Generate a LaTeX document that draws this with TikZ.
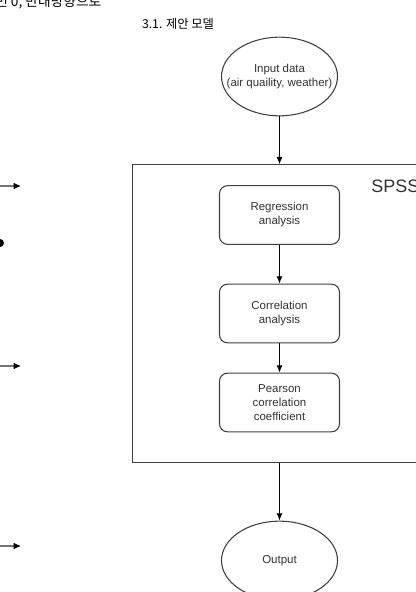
\documentclass[tikz,border=0pt]{standalone}
\usepackage{fontspec}
\setmainfont{Liberation Sans}
\newfontfamily\krfont{Noto Sans CJK KR}
\usetikzlibrary{positioning,shapes.geometric,arrows.meta}

\begin{document}
\begin{tikzpicture}[
    x=0.75pt, y=-0.75pt,
    % Define flow styles
    arrow/.style={-{Latex[length=5.5pt,width=4.5pt]}, line width=0.8pt},
    terminal/.style={ellipse, draw=black!75, line width=0.8pt, inner xsep=-9pt, inner ysep=-6pt,
        minimum width=87pt, minimum height=59pt, align=center, text=black!80,
        font=\fontsize{8.6}{10.5}\selectfont},
    process/.style={rectangle, rounded corners=6pt, draw=black!75, line width=0.8pt,
        minimum width=90pt, minimum height=44pt, align=center, text=black!80,
        font=\fontsize{8.6}{10.5}\selectfont},
    stub/.style={-{Latex[length=5.5pt,width=5pt,black]}, black!55, line width=0.8pt} % Arrows of the text column
]

% Page frame
\useasboundingbox (0,0) rectangle (416,592);
\clip (0,0) rectangle (416,592);

% Text above the figure
\node[anchor=base west, inner sep=0pt, font=\krfont\fontsize{10.3}{12}\selectfont] (prevline) at (-5,7) {번 0, 반대방향으로};
\node[anchor=base, inner sep=0pt, font=\krfont\fontsize{9.2}{11}\selectfont] (caption) at (178,29) {3.1. 제안 모델};

% Left column marks
\coordinate (s1) at (-2,186);
\coordinate (e1) at (21,186);
\coordinate (s2) at (-2,366);
\coordinate (e2) at (21,366);
\coordinate (s3) at (-2,546);
\coordinate (e3) at (21,546);
\draw[stub] (s1) -- (e1);
\draw[stub] (s2) -- (e2);
\draw[stub] (s3) -- (e3);
\fill (0,243) circle (3pt);

% SPSS block
\node[draw=black!75, line width=0.8pt, minimum width=221pt, minimum height=223pt] (spss) at (279.5,313.5) {};
\node[anchor=base west, inner sep=0pt, text=black!80, font=\fontsize{13.5}{15}\selectfont] (tool) at (371,192) {SPSS};

% Flow nodes
\node[terminal] (input) at (279.5,76.5) {Input data\\(air quaility, weather)};
\node[process] (regr) at (279.5,215) {Regression\\analysis};
\node[process] (corr) at (279.5,313.5) {Correlation\\analysis};
\node[process] (pear) at (279.5,402.5) {Pearson\\correlation\\coefficient};
\node[terminal] (output) at (279.5,560.5) {Output};

% Connections
\draw[arrow] (input.south) -- (input.south |- spss.north);
\draw[arrow] (regr) -- (corr);
\draw[arrow] (corr) -- (pear);
\draw[arrow] (output.north |- spss.south) -- (output.north);

\end{tikzpicture}
\end{document}
